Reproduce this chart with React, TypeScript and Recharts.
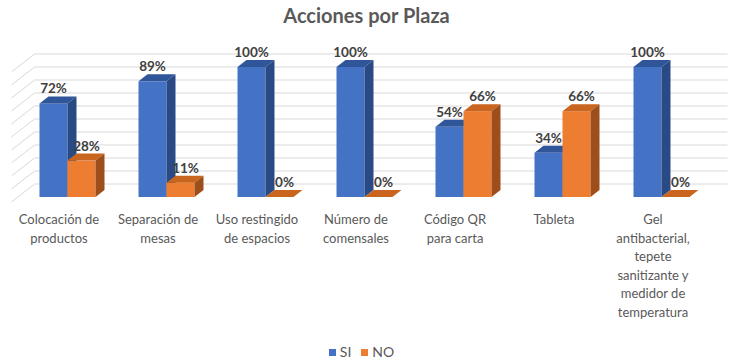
import { BarChart, Bar, XAxis, YAxis, CartesianGrid, Legend, LabelList } from 'recharts';

const tickLines = [
  ['Colocación de', 'productos'],
  ['Separación de', 'mesas'],
  ['Uso restingido', 'de espacios'],
  ['Número de', 'comensales'],
  ['Código QR', 'para carta'],
  ['Tableta'],
  ['Gel', 'antibacterial,', 'tepete', 'sanitizante y', 'medidor de', 'temperatura'],
];
const categories = tickLines.map((l) => l.join(' '));
const si = [72, 89, 100, 100, 54, 34, 100];
const no = [28, 11, 0, 0, 66, 66, 0];
const yTicks = [0, 10, 20, 30, 40, 50, 60, 70, 80, 90, 100];
const seriesOrder = ['SI', 'NO'];

const data = categories.map((name, i) => ({ name, SI: si[i], NO: no[i] }));

const FONT = 'Lato, "Open Sans", sans-serif';
const DX = 9;
const DY = 7;

// back wall sits up-right of the bar fronts
const WALL_DX = 17;
const WALL_DY = 13;

function make3D(top: string, side: string) {
  return (props: any) => {
    const { x, y, width, height, fill } = props;
    const h = Math.max(0, height || 0);
    return (
      <g>
        <rect x={x} y={y} width={width} height={h} fill={fill} />
        <polygon
          points={`${x},${y} ${x + DX},${y - DY} ${x + width + DX},${y - DY} ${x + width},${y}`}
          fill={top}
        />
        <polygon
          points={`${x + width},${y} ${x + width + DX},${y - DY} ${x + width + DX},${y + h - DY} ${x + width},${y + h}`}
          fill={side}
        />
      </g>
    );
  };
}

const GridLine = (props: any) => {
  const { x1, x2, y1 } = props;
  const bx = x1 + WALL_DX;
  const by = y1 - WALL_DY;
  return (
    <g>
      <line x1={bx} y1={by} x2={x2 + WALL_DX} y2={by} stroke="#D9D9D9" strokeWidth={1} />
      <line x1={bx} y1={by} x2={bx - 23} y2={by + 18} stroke="#D9D9D9" strokeWidth={1} />
    </g>
  );
};

const CategoryTick = (props: any) => {
  const { x, y, payload } = props;
  const lines = tickLines[categories.indexOf(payload.value)] || [];
  return (
    <text x={x - 8} y={y} textAnchor="middle" fill="#595959" fontSize={13} fontFamily={FONT}>
      {lines.map((l, i) => (
        <tspan key={i} x={x - 8} dy={i === 0 ? 19 : 18.5}>
          {l}
        </tspan>
      ))}
    </text>
  );
};

function makeLabel(shift: number) {
  return (p: any) => {
    const { x, y, width, value } = p;
    return (
      <text
        x={x + width / 2 + shift}
        y={y - 10}
        textAnchor="middle"
        fill="#404040"
        fontSize={13.5}
        fontWeight="bold"
        fontFamily={FONT}
      >
        {`${value}%`}
      </text>
    );
  };
}

export default function App() {
  return (
    <div style={{ position: 'absolute', left: 0, top: 0, width: 733, height: 360, background: '#fff', fontFamily: FONT }}>
      <div
        style={{
          position: 'absolute',
          top: 3,
          left: 0,
          width: 733,
          textAlign: 'center',
          fontSize: 20,
          fontWeight: 'bold',
          color: '#595959',
        }}
      >
        Acciones por Plaza
      </div>
      <BarChart
        width={733}
        height={360}
        data={data}
        margin={{ top: 67, right: 22.5, bottom: 133, left: 17.5 }}
        barSize={28}
        barGap={0}
      >
        <CartesianGrid vertical={false} horizontal={GridLine} />
        <XAxis
          dataKey="name"
          height={30}
          axisLine={false}
          tickLine={false}
          tick={CategoryTick}
          interval={0}
        />
        <YAxis hide domain={[0, 100]} ticks={yTicks} tickCount={yTicks.length} interval={0} />
        <Legend
          layout="horizontal"
          verticalAlign="middle"
          align="center"
          iconType="square"
          iconSize={7}
          itemSorter={(item: any) => seriesOrder.indexOf(item.value)}
          wrapperStyle={{ top: 341, left: 0, width: 733 }}
          formatter={(v: string) => <span style={{ color: '#595959', fontSize: 14 }}>{v}</span>}
        />
        <Bar dataKey="SI" fill="#4472C4" shape={make3D('#30569A', '#2A4A85')} isAnimationActive={false}>
          <LabelList dataKey="SI" content={makeLabel(0)} />
        </Bar>
        <Bar dataKey="NO" fill="#ED7D31" shape={make3D('#C9651E', '#9E4E1A')} isAnimationActive={false}>
          <LabelList dataKey="NO" content={makeLabel(5)} />
        </Bar>
      </BarChart>
    </div>
  );
}
